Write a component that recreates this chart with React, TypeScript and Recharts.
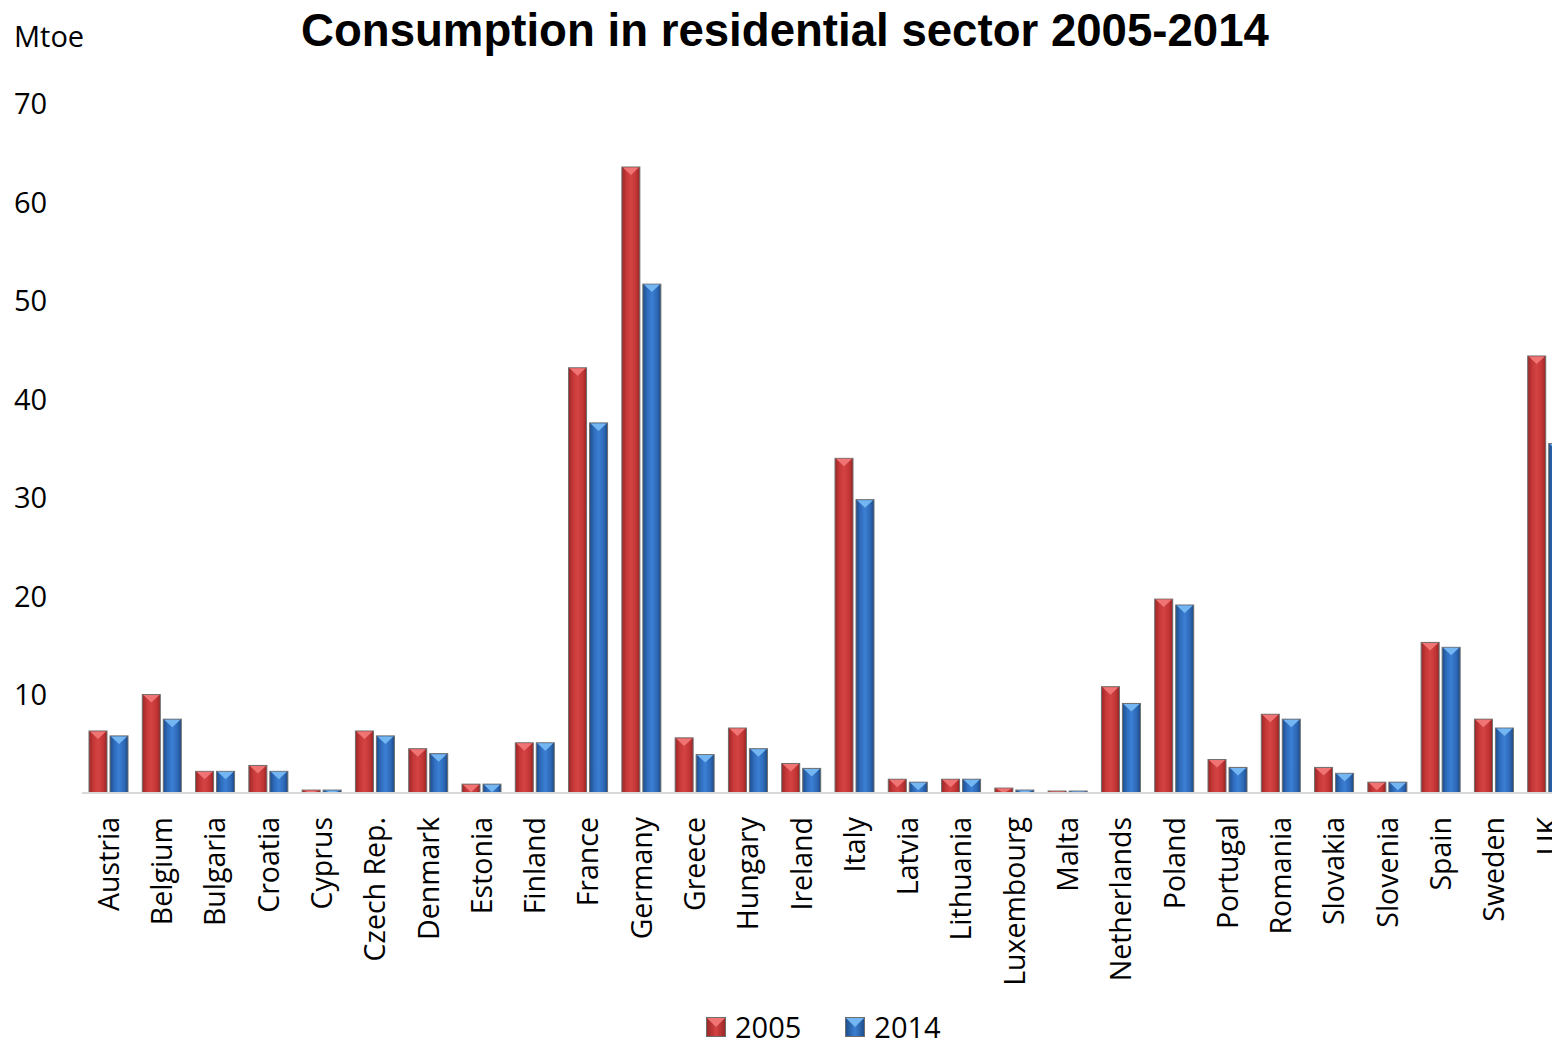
import React from 'react';
import { BarChart, Bar, XAxis, YAxis } from 'recharts';

const countries = [
  'Austria', 'Belgium', 'Bulgaria', 'Croatia', 'Cyprus', 'Czech Rep.', 'Denmark', 'Estonia',
  'Finland', 'France', 'Germany', 'Greece', 'Hungary', 'Ireland', 'Italy', 'Latvia',
  'Lithuania', 'Luxembourg', 'Malta', 'Netherlands', 'Poland', 'Portugal', 'Romania',
  'Slovakia', 'Slovenia', 'Spain', 'Sweden', 'UK',
];

// Mtoe
const values2005 = [
  6.3, 10.0, 2.2, 2.8, 0.3, 6.3, 4.5, 0.9, 5.1, 43.2, 63.6, 5.6, 6.6, 3.0, 34.0, 1.4,
  1.4, 0.5, 0.2, 10.8, 19.7, 3.4, 8.0, 2.6, 1.1, 15.3, 7.5, 44.4,
];
const values2014 = [
  5.8, 7.5, 2.2, 2.2, 0.3, 5.8, 4.0, 0.9, 5.1, 37.6, 51.7, 3.9, 4.5, 2.5, 29.8, 1.1,
  1.4, 0.3, 0.2, 9.1, 19.1, 2.6, 7.5, 2.0, 1.1, 14.8, 6.6, 35.5,
];

const yTicks = [10, 20, 30, 40, 50, 60, 70];

const data = countries.map((c, i) => ({ country: c, y2005: values2005[i], y2014: values2014[i] }));

const FONT = '"Open Sans", sans-serif';

// bevelled bar: gradient body, light triangle on top
const makeBarShape = (gradId: string, topColor: string) => (props: any) => {
  const { x, y, width, height } = props;
  if (height <= 0) return null;
  const tri = Math.min(8, height);
  return (
    <g>
      <rect x={x} y={y} width={width} height={height} fill={`url(#${gradId})`} stroke="#6e6e6e" strokeWidth={1} />
      <polygon
        points={`${x + 1},${y + 0.5} ${x + width - 1},${y + 0.5} ${x + width / 2},${y + tri}`}
        fill={topColor}
      />
    </g>
  );
};

const redShape = makeBarShape('gradRed', '#f07474');
const blueShape = makeBarShape('gradBlue', '#74b6f2');

const CountryTick = (props: any) => {
  const { x, y, payload } = props;
  const ty = y + 16;
  return (
    <text
      x={x}
      y={ty}
      transform={`rotate(-90, ${x}, ${ty})`}
      textAnchor="end"
      dy="0.36em"
      fontFamily={FONT}
      fontSize={28.5}
      fill="#000"
    >
      {payload.value}
    </text>
  );
};

const ValueTick = (props: any) => {
  const { y, payload } = props;
  return (
    <text x={14} y={y} dy="0.36em" textAnchor="start" fontFamily={FONT} fontSize={29} fill="#000">
      {payload.value}
    </text>
  );
};

const LegendIcon = ({ grad, top }: { grad: string[]; top: string }) => (
  <svg width={20} height={20} style={{ marginRight: 9 }}>
    <defs>
      <linearGradient id={`lg${top}`} x1="0" y1="0" x2="1" y2="0">
        <stop offset="0%" stopColor={grad[0]} />
        <stop offset="50%" stopColor={grad[1]} />
        <stop offset="100%" stopColor={grad[0]} />
      </linearGradient>
    </defs>
    <rect x={0.5} y={0.5} width={19} height={19} fill={`url(#lg${top})`} stroke="#6e6e6e" />
    <polygon points="1,1 19,1 10,10" fill={top} />
  </svg>
);

export default function App() {
  return (
    <div
      style={{
        position: 'absolute', left: 0, top: 0, width: 1552, height: 1042,
        overflow: 'hidden', background: '#fff', fontFamily: FONT,
      }}
    >
      <div
        style={{
          position: 'absolute', left: 0, width: 1570, top: 4, textAlign: 'center',
          fontFamily: '"Liberation Sans", Arial, sans-serif', fontWeight: 'bold', fontSize: 45.6, lineHeight: '54px',
        }}
      >
        Consumption in residential sector 2005-2014
      </div>
      <div style={{ position: 'absolute', left: 14, top: 16, fontSize: 29, lineHeight: '40px' }}>Mtoe</div>

      <BarChart
        width={1600}
        height={1042}
        data={data}
        margin={{ top: 104, right: 26, left: 0, bottom: 49 }}
        barSize={18}
        barGap={3}
      >
        <defs>
          <linearGradient id="gradRed" x1="0" y1="0" x2="1" y2="0">
            <stop offset="0%" stopColor="#9a2627" />
            <stop offset="25%" stopColor="#c63838" />
            <stop offset="50%" stopColor="#d44343" />
            <stop offset="80%" stopColor="#c23535" />
            <stop offset="100%" stopColor="#962424" />
          </linearGradient>
          <linearGradient id="gradBlue" x1="0" y1="0" x2="1" y2="0">
            <stop offset="0%" stopColor="#1e4d8a" />
            <stop offset="25%" stopColor="#2f6cbd" />
            <stop offset="50%" stopColor="#3b7fd3" />
            <stop offset="80%" stopColor="#2d68b6" />
            <stop offset="100%" stopColor="#1c4883" />
          </linearGradient>
        </defs>
        <XAxis
          dataKey="country"
          interval={0}
          height={200}
          tick={<CountryTick />}
          tickLine={false}
          axisLine={{ stroke: '#d9d9d9', strokeWidth: 2 }}
        />
        <YAxis
          domain={[0, 70]}
          ticks={yTicks}
          width={82}
          tick={<ValueTick />}
          tickLine={false}
          axisLine={false}
        />
        <Bar dataKey="y2005" name="2005" shape={redShape} isAnimationActive={false} />
        <Bar dataKey="y2014" name="2014" shape={blueShape} isAnimationActive={false} />
      </BarChart>

      <div
        style={{
          position: 'absolute', top: 1014, left: 706, display: 'flex', alignItems: 'center',
          fontSize: 29, lineHeight: '26px',
        }}
      >
        <LegendIcon grad={['#9a2627', '#d44343']} top="#f07474" />
        <span style={{ marginRight: 44 }}>2005</span>
        <LegendIcon grad={['#1e4d8a', '#3b7fd3']} top="#74b6f2" />
        <span>2014</span>
      </div>
    </div>
  );
}
